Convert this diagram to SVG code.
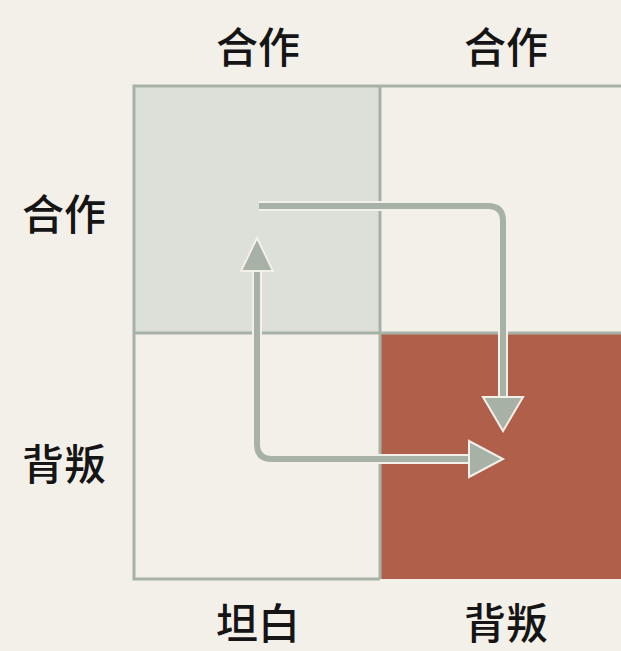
<svg xmlns="http://www.w3.org/2000/svg" width="621" height="651" viewBox="0 0 621 651">
<style>
.lbl{font-family:"Noto Sans CJK SC","Noto Sans",sans-serif;font-size:42px;font-weight:500;fill:#151515;text-anchor:middle;dominant-baseline:central}
.grid{stroke:#A8B1A5;stroke-width:3;fill:none}
.halo{stroke:#F3F0EA;stroke-width:10;fill:none;stroke-linejoin:round}
.conn{stroke:#A8B1A5;stroke-width:6;fill:none;stroke-linejoin:round}
.head{fill:#A8B1A5;stroke:#F3F0EA;stroke-width:2;stroke-linejoin:miter}
</style>
<rect width="621" height="651" fill="#F3F0EA"/>
<g id="cells">
<rect id="cell-cc" x="134" y="86" width="246" height="247" fill="#DDE0D8"/>
<rect id="cell-dd" x="381" y="334" width="240" height="245" fill="#B0604A"/>
</g>
<g id="grid">
<path class="grid" d="M621 86H134V579H380"/>
<path class="grid" d="M380 86V579"/>
<path class="grid" d="M134 333H621"/>
</g>
<g id="connectors">
<path class="halo" d="M259 206H488Q503 206 503 221V400"/>
<path class="halo" d="M257 268V444Q257 459 272 459H472"/>
<path class="conn" d="M259 206H488Q503 206 503 221V400"/>
<path class="conn" d="M257 268V444Q257 459 272 459H472"/>
<polygon class="head" points="483,397 523,397 503,431"/>
<polygon class="head" points="241,271 273,271 257,238"/>
<polygon class="head" points="469,441 469,477 503,459"/>
</g>
<g id="labels">
<text class="lbl" x="258" y="44">合作</text>
<text class="lbl" x="506" y="44">合作</text>
<text class="lbl" x="64" y="211">合作</text>
<text class="lbl" x="64" y="461">背叛</text>
<text class="lbl" x="258" y="620">坦白</text>
<text class="lbl" x="506" y="620">背叛</text>
</g>
</svg>
